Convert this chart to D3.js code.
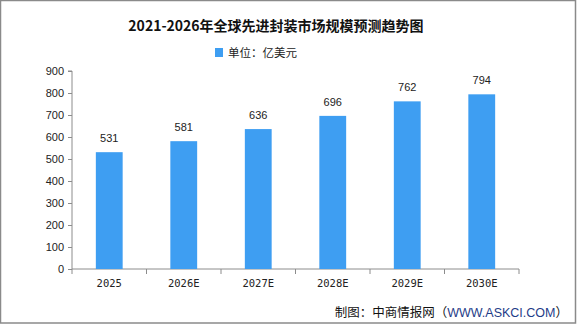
<!DOCTYPE html>
<html>
<head>
<meta charset="utf-8">
<script src="https://cdn.jsdelivr.net/npm/d3@7/dist/d3.min.js"></script>
<style>
  html, body { margin: 0; padding: 0; background: #fff; }
  svg { display: block; }
</style>
</head>
<body>
<svg id="chart" width="585" height="327"></svg>
<script>
// Daten
const years = ["2025", "2026E", "2027E", "2028E", "2029E", "2030E"];
const values = [531, 581, 636, 696, 762, 794];
const yTicks = [0, 100, 200, 300, 400, 500, 600, 700, 800, 900];

const titleText = "2021-2026年全球先进封装市场规模预测趋势图";
const unitText = "单位：亿美元";

const svg = d3.select("#chart");
const barColor = "#3e9ef2";
const axisColor = "#8c8c8c";

// Rahmen
svg.append("rect")
  .attr("x", 0.5)
  .attr("y", 0.5)
  .attr("width", 575)
  .attr("height", 322.5)
  .attr("fill", "#fff")
  .attr("stroke", "#8a8a8a")
  .attr("stroke-width", 1.5);

const x0 = 72, x1 = 519, yTop = 71, yBottom = 269;

const xScale = d3.scaleBand()
  .domain(years)
  .range([x0, x1])
  .paddingInner(0.64)
  .paddingOuter(0.32);

const yScale = d3.scaleLinear()
  .domain([0, 900])
  .range([yBottom, yTop]);

// Titel
svg.append("text")
  .attr("x", 276)
  .attr("y", 31)
  .attr("text-anchor", "middle")
  .attr("font-family", "'Noto Sans CJK SC', sans-serif")
  .attr("font-size", "14px")
  .attr("font-weight", "700")
  .attr("fill", "#111")
  .text(titleText);

// Legende
svg.append("rect")
  .attr("x", 215)
  .attr("y", 48)
  .attr("width", 8)
  .attr("height", 9)
  .attr("fill", barColor);

svg.append("text")
  .attr("x", 228)
  .attr("y", 57)
  .attr("font-family", "'Noto Sans CJK SC', sans-serif")
  .attr("font-size", "11.5px")
  .attr("fill", "#222")
  .text(unitText);

// Y-Achse
const yAxis = svg.append("g")
  .attr("transform", `translate(${x0},0)`)
  .call(d3.axisLeft(yScale).tickValues(yTicks).tickSize(4).tickPadding(4));
yAxis.select(".domain").attr("stroke", axisColor).attr("d", `M-4,${yTop}H0V${yBottom}`);
yAxis.selectAll(".tick line").attr("stroke", axisColor);
yAxis.selectAll(".tick text")
  .attr("font-family", "'Liberation Sans', Arial, sans-serif")
  .attr("font-size", "11px")
  .attr("fill", "#222");

// X-Achse
const xAxis = svg.append("g")
  .attr("transform", `translate(0,${yBottom})`)
  .call(d3.axisBottom(xScale).tickSize(0).tickPadding(11));
xAxis.select(".domain").attr("stroke", axisColor).attr("d", `M${x0},0H${x1}`);
xAxis.selectAll(".tick text")
  .attr("font-family", "'DejaVu Sans Mono', monospace")
  .attr("font-size", "10.5px")
  .attr("fill", "#222");

// Trennstriche zwischen Kategorien
const boundaries = d3.range(years.length + 1).map(i => x0 + i * (x1 - x0) / years.length);
svg.append("g")
  .selectAll("line")
  .data(boundaries)
  .enter()
  .append("line")
    .attr("x1", d => d)
    .attr("x2", d => d)
    .attr("y1", yBottom)
    .attr("y2", yBottom + 5)
    .attr("stroke", axisColor);

// Balken
const data = years.map((y, i) => ({ year: y, value: values[i] }));

svg.append("g")
  .selectAll("rect")
  .data(data)
  .enter()
  .append("rect")
    .attr("x", d => xScale(d.year))
    .attr("y", d => yScale(d.value))
    .attr("width", xScale.bandwidth())
    .attr("height", d => yBottom - yScale(d.value))
    .attr("fill", barColor);

// Werte
svg.append("g")
  .selectAll("text")
  .data(data)
  .enter()
  .append("text")
    .attr("x", d => xScale(d.year) + xScale.bandwidth() / 2)
    .attr("y", d => yScale(d.value) - 10)
    .attr("text-anchor", "middle")
    .attr("font-family", "'Liberation Sans', Arial, sans-serif")
    .attr("font-size", "11px")
    .attr("fill", "#222")
    .text(d => d.value);

// Quelle
const src = svg.append("text")
  .attr("x", 568)
  .attr("y", 317)
  .attr("text-anchor", "end")
  .attr("font-family", "'Noto Sans CJK SC', sans-serif")
  .attr("font-size", "12.5px")
  .attr("fill", "#111");
src.append("tspan").text("制图：中商情报网（");
src.append("tspan").attr("fill", "#1f3c88").attr("font-family", "'Liberation Sans', Arial, sans-serif").text("WWW.ASKCI.COM");
src.append("tspan").text("）");
</script>
</body>
</html>
